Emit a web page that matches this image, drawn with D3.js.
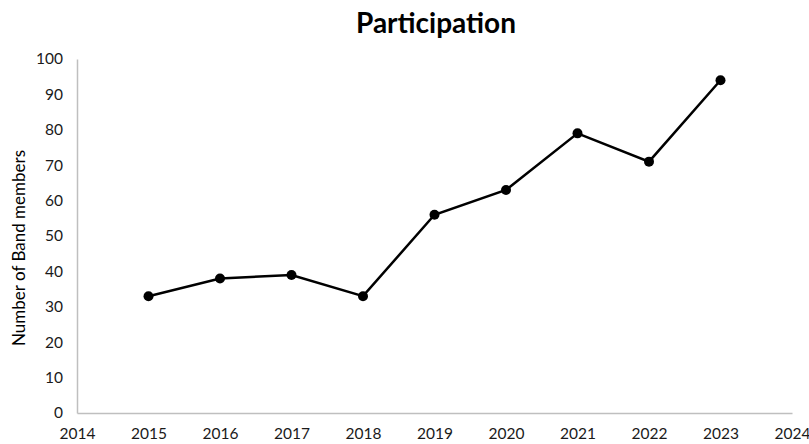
<!DOCTYPE html>
<html><head><meta charset="utf-8">
<script src="https://cdn.jsdelivr.net/npm/d3@7"></script>
<style>body{margin:0;background:#fff;} text{font-family:Lato,"Open Sans",sans-serif;}</style>
</head><body>
<svg id="c" width="809" height="444"></svg>
<script>
const years = [2015,2016,2017,2018,2019,2020,2021,2022,2023];
const members = [33,38,39,33,56,63,79,71,94];
const xTicks = [2014,2015,2016,2017,2018,2019,2020,2021,2022,2023,2024];
const yTicks = [0,10,20,30,40,50,60,70,80,90,100];

const svg = d3.select("#c");
const x = d3.scaleLinear().domain([2014,2024]).range([77,792]);
const y = d3.scaleLinear().domain([0,100]).range([413,59]);

svg.append("text").attr("x",436).attr("y",33).attr("text-anchor","middle")
  .style("font-size","28px").style("font-weight","bold").attr("fill","#000").text("Participation");

const xa = svg.append("g").attr("transform","translate(0,413)")
  .call(d3.axisBottom(x).tickValues(xTicks).tickFormat(d3.format("d")).tickSize(0).tickPadding(15));
xa.select(".domain").attr("stroke","#bfbfbf").attr("stroke-width",1.5);
xa.selectAll("text").style("font-size","15.5px").attr("fill","#1a1a1a").style("font-family","Lato,sans-serif");

const ya = svg.append("g").attr("transform","translate(77,0)")
  .call(d3.axisLeft(y).tickValues(yTicks).tickSize(0).tickPadding(14));
ya.select(".domain").attr("stroke","#bfbfbf").attr("stroke-width",1.5);
ya.selectAll("text").style("font-size","15.5px").attr("fill","#1a1a1a").style("font-family","Lato,sans-serif");

svg.append("text").attr("transform","translate(25,248) rotate(-90)").attr("text-anchor","middle")
  .style("font-size","17px").attr("fill","#000").text("Number of Band members");

const data = years.map((d,i)=>({year:d,v:members[i]}));
svg.append("path").datum(data).attr("fill","none").attr("stroke","#000").attr("stroke-width",2.5)
  .attr("d", d3.line().x(d=>x(d.year)).y(d=>y(d.v)));
svg.selectAll("circle.pt").data(data).join("circle").attr("class","pt")
  .attr("cx",d=>x(d.year)).attr("cy",d=>y(d.v)).attr("r",5).attr("fill","#000");
</script>
</body></html>
